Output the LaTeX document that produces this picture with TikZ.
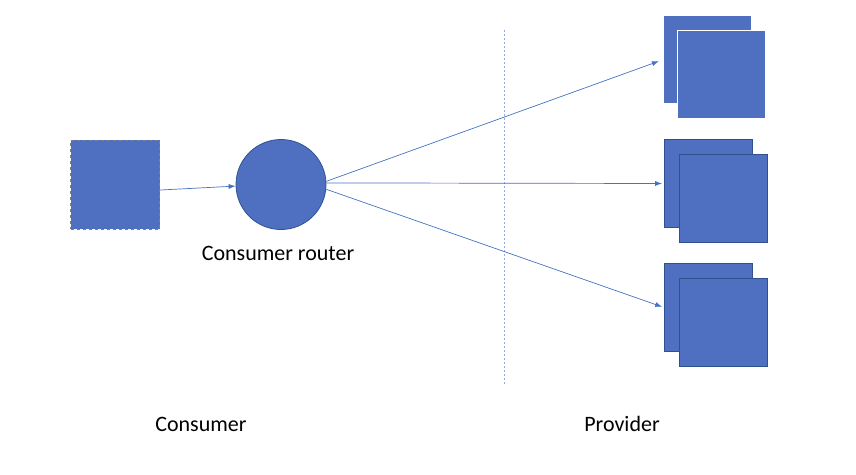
\documentclass[tikz,border=0pt]{standalone}
\usepackage{fontspec}
\setmainfont{Carlito}
\definecolor{boxblue}{HTML}{4F6FC1}
\definecolor{edgeblue}{HTML}{2F528F}
\definecolor{lineblue}{HTML}{4472C4}
\tikzset{
  box/.style={rectangle, fill=boxblue, draw=edgeblue, line width=0.8pt, minimum size=88pt, inner sep=0pt},
  flow/.style={draw=lineblue, line width=0.7pt, -{Latex[length=7pt,width=5pt]}},
  label/.style={font=\fontsize{22}{26}\selectfont}
}
\usetikzlibrary{arrows.meta}
\begin{document}
\begin{tikzpicture}[x=1pt,y=-1pt]
    \useasboundingbox (0,0) rectangle (856,474);
    % consumer side
    \node[box, draw=gray, dashed, line width=1pt, minimum size=89pt] (consumer) at (115,184.5) {};
    \node[circle, fill=boxblue, draw=edgeblue, line width=0.8pt, minimum size=90pt, inner sep=0pt] (router) at (281,184.5) {};
    \node[label] (routerlabel) at (278,253) {Consumer router};
    \draw[flow] (consumer.-7) -- (router.182);
    % boundary
    \coordinate (bndtop) at (504,30);
    \coordinate (bndbot) at (504,385);
    \draw[draw=lineblue!60, line width=0.6pt, dash pattern=on 2pt off 2pt] (bndtop) -- (bndbot);
    % providers
    \node[box, minimum size=87pt, draw=none] (prov1back) at (707.5,59.5) {};
    \node[box, minimum size=88pt, draw=white] (prov1) at (721,74) {};
    \node[box] (prov2back) at (708.5,183.5) {};
    \node[box] (prov2) at (723.5,198) {};
    \node[box] (prov3back) at (708.5,307.5) {};
    \node[box] (prov3) at (723.5,322) {};
    \draw[flow, shorten >=5pt] (router.4) -- (prov1back.west);
    \draw[flow, shorten >=2pt] (router.2) -- (prov2back.west);
    \draw[flow, shorten >=2pt] (router.-6) -- (prov3back.west);
    % sides
    \node[label] (consumerlabel) at (201,424) {Consumer};
    \node[label] (providerlabel) at (622,424) {Provider};
\end{tikzpicture}
\end{document}
